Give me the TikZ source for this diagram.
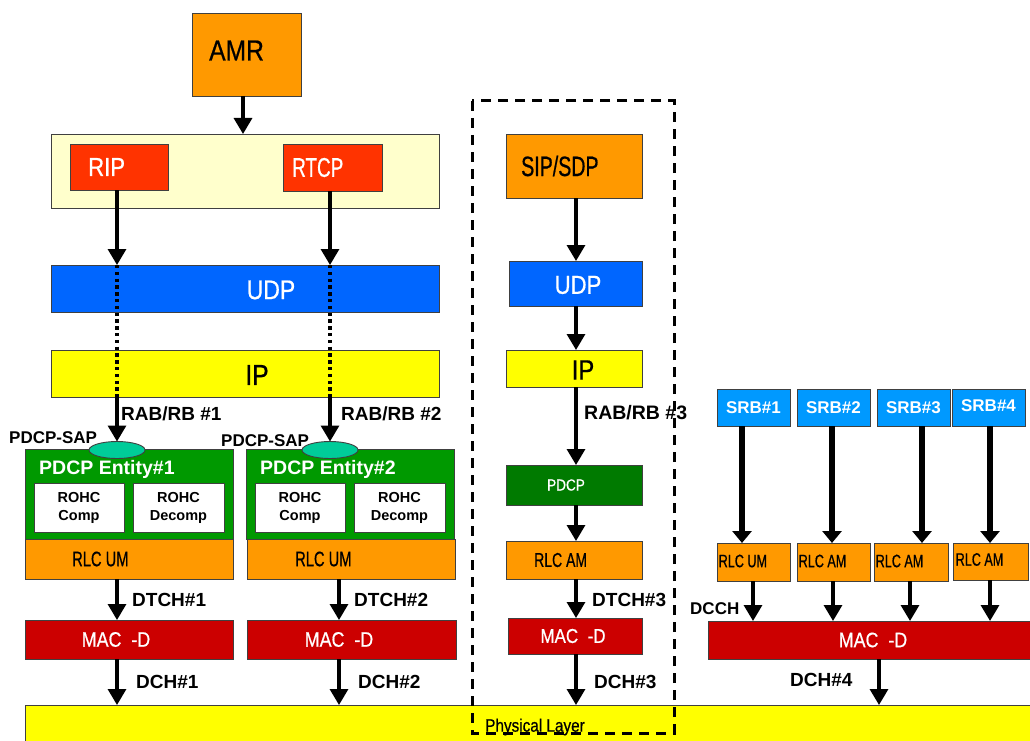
\documentclass[tikz,border=0pt]{standalone}
\usepackage{fontspec}
\setmainfont{Liberation Sans}
\newfontfamily\narA[FakeStretch=0.85,FakeBold=0.6]{Liberation Sans}
\newfontfamily\narB[FakeStretch=0.7,FakeBold=0.6]{Liberation Sans}
\usetikzlibrary{shapes.geometric,arrows.meta}
\definecolor{org}{HTML}{FF9900}
\definecolor{cream}{HTML}{FFFFCC}
\definecolor{rred}{HTML}{FF3300}
\definecolor{udpblue}{HTML}{0066FF}
\definecolor{ylw}{HTML}{FFFF00}
\definecolor{sapteal}{HTML}{00CC99}
\definecolor{entgreen}{HTML}{009900}
\definecolor{dgreen}{HTML}{007A00}
\definecolor{macred}{HTML}{CC0000}
\definecolor{srbblue}{HTML}{0099FF}
\newcommand{\fsz}[1]{\fontsize{#1}{#1}\selectfont}
\begin{document}
\begin{tikzpicture}[x=1pt,y=-1pt,
 bx/.style={draw=black!75, line width=0.9pt, inner sep=0pt, outer sep=0pt},
 na/.style={font=\narA\fsz{#1}, inner sep=0pt},
 nb/.style={font=\narB\fsz{#1}, inner sep=0pt},
 bl/.style={font=\bfseries\fsz{#1}, inner sep=0pt},
 arr/.style={line width=3.3pt, -{Triangle[width=18pt,length=16pt]}},
 sarr/.style={line width=6pt, -{Triangle[width=19pt,length=12pt]}},
 dotl/.style={line width=3.3pt, dash pattern=on 3.4pt off 3.4pt},
 rohc/.style={bx, fill=white, minimum width=#1, minimum height=49, align=center, font=\bfseries\fontsize{14.5}{18}\selectfont}
]
\useasboundingbox (0,0) rectangle (1030,741);
\clip (0,0) rectangle (1030,741);

% x positions of connectors
\coordinate (xa) at (243,0);
\coordinate (x1) at (117,0);
\coordinate (x2) at (330,0);
\coordinate (x1b) at (117,0);
\coordinate (x2b) at (339,0);
\coordinate (xm) at (576,0);
\coordinate (xs1) at (742,0);
\coordinate (xs2) at (832,0);
\coordinate (xs3) at (922,0);
\coordinate (xs4) at (990,0);
\coordinate (xr1) at (753,0);
\coordinate (xr2) at (833,0);
\coordinate (xr3) at (910,0);
\coordinate (xr4) at (990,0);
\coordinate (xd4) at (879,0);

% physical layer
\node[bx, fill=ylw, minimum width=1014, minimum height=40] (phy) at (532,725) {};

% ---------- left block ----------
\node[bx, fill=org, minimum width=109, minimum height=83] (amr) at (246.5,54.5) {};
\node[na=29, anchor=west] (amrT) at ([xshift=17pt,yshift=4pt]amr.west) {AMR};

\node[bx, fill=cream, minimum width=388, minimum height=74] (rtp) at (245,171) {};
\node[bx, fill=rred, minimum width=98, minimum height=46] (rip) at (119,167) {};
\node[na=26, white, anchor=west] (ripT) at ([xshift=18pt]rip.west) {RIP};
\node[bx, fill=rred, minimum width=99, minimum height=47] (rtcp) at (332.5,167.5) {};
\node[nb=27, white, anchor=west] (rtcpT) at ([xshift=9pt]rtcp.west) {RTCP};

\node[bx, fill=udpblue, minimum width=388, minimum height=47] (udp) at (245,288.5) {};
\node[na=27, white] (udpT) at (271,290) {UDP};
\node[bx, fill=ylw, minimum width=388, minimum height=47] (ip) at (245,373.5) {};
\node[na=29] (ipT) at (257,375) {IP};

\node[bx, fill=entgreen, minimum width=208, minimum height=90] (ent1) at (129,494) {};
\node[bx, fill=entgreen, minimum width=208, minimum height=90] (ent2) at (350,494) {};
\node[bl=19.5, white, anchor=west] (ent1T) at (39,469) {PDCP Entity\#1};
\node[bl=19.5, white, anchor=west] (ent2T) at (260,469) {PDCP Entity\#2};
\node[rohc=90] (rc1) at (79,507.5) {ROHC\\Comp};
\node[rohc=91] (rd1) at (178.5,507.5) {ROHC\\Decomp};
\node[rohc=90] (rc2) at (300,507.5) {ROHC\\Comp};
\node[rohc=91] (rd2) at (399.5,507.5) {ROHC\\Decomp};

\node[bx, fill=sapteal, ellipse, minimum width=56, minimum height=17] (sap1) at (117,450) {};
\node[bx, fill=sapteal, ellipse, minimum width=56, minimum height=17] (sap2) at (330,450) {};
\node[bl=17, anchor=west] (sapL1) at (9,438) {PDCP-SAP};
\node[bl=17, anchor=west] (sapL2) at (221,441) {PDCP-SAP};

\node[bx, fill=org, minimum width=208, minimum height=40] (rlc1) at (129,559) {};
\node[nb=21, anchor=west] (rlc1T) at ([xshift=47pt]rlc1.west) {RLC UM};
\node[bx, fill=org, minimum width=208, minimum height=40] (rlc2) at (351,559) {};
\node[nb=21, anchor=west] (rlc2T) at ([xshift=48pt]rlc2.west) {RLC UM};

\node[bx, fill=macred, minimum width=208, minimum height=39] (mac1) at (129,639.5) {};
\node[na=21, white] (mac1T) at (116,639.5) {MAC\ \ -D};
\node[bx, fill=macred, minimum width=209, minimum height=39] (mac2) at (351.5,639.5) {};
\node[na=21, white] (mac2T) at (339,639.5) {MAC\ \ -D};

% left connectors
\draw[arr] (amr.south -| xa) -- (rtp.north -| xa);
\draw[arr] (rip.south -| x1) -- (udp.north -| x1);
\draw[arr] (rtcp.south -| x2) -- (udp.north -| x2);
\draw[dotl] (udp.north -| x1) -- (ip.south -| x1);
\draw[dotl] (udp.north -| x2) -- (ip.south -| x2);
\draw[arr] (ip.south -| x1) -- (sap1.north);
\draw[arr] (ip.south -| x2) -- (sap2.north);
\draw[arr] (rlc1.south -| x1b) -- (mac1.north -| x1b);
\draw[arr] (rlc2.south -| x2b) -- (mac2.north -| x2b);
\draw[arr] (mac1.south -| x1b) -- (phy.north -| x1b);
\draw[arr] (mac2.south -| x2b) -- (phy.north -| x2b);

\node[bl=19, anchor=west] (rab1) at (121,414) {RAB/RB \#1};
\node[bl=19, anchor=west] (rab2) at (341,414) {RAB/RB \#2};
\node[bl=19, anchor=west] (dtch1) at (132,600) {DTCH\#1};
\node[bl=19, anchor=west] (dtch2) at (354,600) {DTCH\#2};
\node[bl=19, anchor=west] (dch1) at (136,682) {DCH\#1};
\node[bl=19, anchor=west] (dch2) at (358,682) {DCH\#2};

% ---------- middle column ----------
\node[bx, fill=org, minimum width=136, minimum height=64] (sip) at (574,166) {};
\node[nb=28, anchor=west] (sipT) at ([xshift=15pt]sip.west) {SIP/SDP};
\node[bx, fill=udpblue, minimum width=133, minimum height=45] (udpm) at (575.5,283.5) {};
\node[na=26, white] (udpmT) at (578,285) {UDP};
\node[bx, fill=ylw, minimum width=136, minimum height=37] (ipm) at (574,368.5) {};
\node[na=28] (ipmT) at (583,370) {IP};
\node[bx, fill=dgreen, minimum width=136, minimum height=40] (pdcpm) at (574,485) {};
\node[na=16, white] (pdcpmT) at (566,485) {PDCP};
\node[bx, fill=org, minimum width=136, minimum height=38] (rlcm) at (574,560) {};
\node[nb=20, anchor=west] (rlcmT) at (534,560) {RLC AM};
\node[bx, fill=macred, minimum width=134, minimum height=36] (macm) at (575,636) {};
\node[na=20, white] (macmT) at (573,636) {MAC\ \ -D};

\draw[arr] (sip.south -| xm) -- (udpm.north -| xm);
\draw[arr] (udpm.south -| xm) -- (ipm.north -| xm);
\draw[arr] (ipm.south -| xm) -- (pdcpm.north -| xm);
\draw[arr] (pdcpm.south -| xm) -- (rlcm.north -| xm);
\draw[arr] (rlcm.south -| xm) -- (macm.north -| xm);
\draw[arr] (macm.south -| xm) -- (phy.north -| xm);

\node[bl=19.5, anchor=west] (rab3) at (584,413) {RAB/RB \#3};
\node[bl=19, anchor=west] (dtch3) at (592,600) {DTCH\#3};
\node[bl=19, anchor=west] (dch3) at (594,682) {DCH\#3};

% ---------- right block ----------
\node[bx, fill=srbblue, minimum width=73, minimum height=37] (srb1) at (753.5,407.5) {};
\node[bx, fill=srbblue, minimum width=73, minimum height=37] (srb2) at (833.5,407.5) {};
\node[bx, fill=srbblue, minimum width=73, minimum height=37] (srb3) at (913.5,407.5) {};
\node[bx, fill=srbblue, minimum width=73, minimum height=37] (srb4) at (988.5,407.5) {};
\node[bl=17, white] (srb1T) at (srb1) {SRB\#1};
\node[bl=17, white] (srb2T) at (srb2) {SRB\#2};
\node[bl=17, white] (srb3T) at (srb3) {SRB\#3};
\node[bl=17, white] (srb4T) at ([yshift=1.5pt]srb4.center) {SRB\#4};

\node[bx, fill=org, minimum width=73, minimum height=38] (rl1) at (753.5,562) {};
\node[bx, fill=org, minimum width=73, minimum height=38] (rl2) at (833.5,562) {};
\node[bx, fill=org, minimum width=74, minimum height=38] (rl3) at (911,562) {};
\node[bx, fill=org, minimum width=75, minimum height=37] (rl4) at (990.5,561.5) {};
\node[nb=18, anchor=west] (rl1T) at ([xshift=1.5pt,yshift=1pt]rl1.west) {RLC UM};
\node[nb=18, anchor=west] (rl2T) at ([xshift=1.5pt,yshift=1pt]rl2.west) {RLC AM};
\node[nb=18, anchor=west] (rl3T) at ([xshift=1.5pt,yshift=1pt]rl3.west) {RLC AM};
\node[nb=18, anchor=west] (rl4T) at ([xshift=2.5pt,yshift=2pt]rl4.west) {RLC AM};

\node[bx, fill=macred, minimum width=332, minimum height=38] (macr) at (874,640) {};
\node[na=21, white] (macrT) at (873,640) {MAC\ \ -D};

\draw[sarr] (srb1.south -| xs1) -- (rl1.north -| xs1);
\draw[sarr] (srb2.south -| xs2) -- (rl2.north -| xs2);
\draw[sarr] (srb3.south -| xs3) -- (rl3.north -| xs3);
\draw[sarr] (srb4.south -| xs4) -- (rl4.north -| xs4);
\draw[arr] (rl1.south -| xr1) -- (macr.north -| xr1);
\draw[arr] (rl2.south -| xr2) -- (macr.north -| xr2);
\draw[arr] (rl3.south -| xr3) -- (macr.north -| xr3);
\draw[arr] (rl4.south -| xr4) -- (macr.north -| xr4);
\draw[arr] (macr.south -| xd4) -- (phy.north -| xd4);

\node[bl=17, anchor=west] (dcch) at (690,609) {DCCH};
\node[bl=19, anchor=west] (dch4) at (790,680) {DCH\#4};

% dashed frame
\draw[line width=3pt, dash pattern=on 10pt off 7pt] (472,101) rectangle (674,733);
\node[na=18] (phyT) at (535,727) {Physical Layer};
\end{tikzpicture}
\end{document}
